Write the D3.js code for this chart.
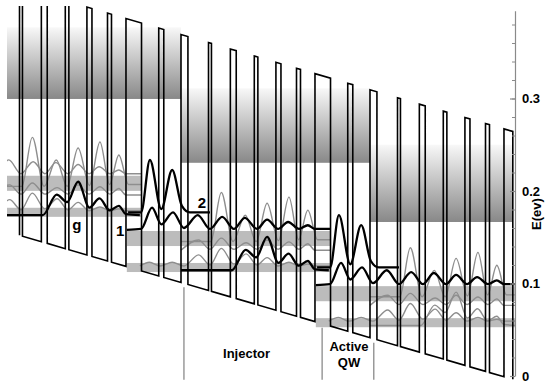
<!DOCTYPE html>
<html><head><meta charset="utf-8">
<script src="https://cdn.jsdelivr.net/npm/d3@7"></script>
<style>
body{margin:0;background:#fff}
svg{display:block}
text{font-family:Arial,"Liberation Sans",Helvetica,sans-serif;font-weight:bold;fill:#000}
</style>
</head><body>
<svg id="chart" width="550" height="383"></svg>
<script>
// ---------------- data ----------------
// layer widths of one period (nm), alternating barrier / well, starting with a barrier
const layerWidths = [1.65, 4.9, 0.7, 4.5, 1.4, 4.3, 0.85, 4.3, 1.2, 3.7, 0.95, 3.45, 3.7, 4.1, 1.2, 4.1];
const periodLength = 45;        // nm
const nPeriods = 3;
const bandEdge0 = 0.1608;       // eV, conduction band (well) at x = 0
const fieldDrop = 0.001326;     // eV per nm
const barrierHeight = 0.268;    // eV
const profileStart = 6.55;      // nm
const profileEnd = 124.0;       // nm
const periodDrop = fieldDrop * periodLength;

// continuum boxes [x0, x1, Ebottom, Etop]
const continuumBoxes = [
  [3.57, 45.0, 0.2995, 0.377],
  [45.0, 90.0, 0.2305, 0.311],
  [90.0, 124.0, 0.1665, 0.250]
];

// minibands (reference period), [x0, x1, Elow, Ehigh]
const minibands = [
  [32.1, 80.5, 0.1405, 0.1568],
  [32.1, 80.5, 0.1124, 0.1222]
];
const minibandCopies = [-1, 0, 1];

// wavefunctions: [x nm, E eV] points as read, plus period copies
const state1 = [[32.1,0.158],[35.5,0.159],[38.1,0.182],[40.3,0.164],[43.1,0.177],[45.7,0.160],[49.0,0.174],[51.9,0.159],[54.8,0.172],[57.6,0.159],[60.2,0.171],[63.1,0.159],[65.5,0.169],[68.1,0.159],[70.5,0.1665],[73.1,0.159],[75.2,0.163],[76.9,0.159],[80.5,0.159]];
const state2 = [[32.4,0.177],[35.5,0.177],[37.6,0.2335],[40.3,0.1805],[42.9,0.2227],[45.2,0.184],[47.1,0.177],[51.9,0.177]];
const stateG = [[0,0.174],[12.1,0.174],[15.4,0.196],[17.9,0.188],[20.5,0.210],[23.2,0.182],[25.6,0.192],[28.0,0.179],[30.2,0.184],[31.9,0.175],[35.2,0.174]];
const stateA = [[0,0.205],[7.1,0.205],[9.6,0.258],[12.4,0.205],[15.3,0.2335],[17.9,0.205],[20.5,0.2465],[23.2,0.206],[25.7,0.253],[28.0,0.207],[30.2,0.239],[32.5,0.207],[35.5,0.207]];
const stateD = [[45.0,0.136],[49.2,0.147],[51.9,0.137],[54.6,0.149],[57.6,0.137],[60.5,0.144],[63.1,0.137],[65.5,0.147],[68.1,0.137],[70.7,0.145],[73.1,0.137],[75.2,0.143],[76.9,0.136],[80.5,0.136]];
const stateE = [[35.2,0.119],[37.5,0.123],[40.0,0.119],[42.9,0.123],[45.7,0.119],[49.2,0.131],[51.9,0.12],[54.6,0.138],[57.6,0.121],[60.5,0.132],[63.1,0.12],[65.5,0.128],[68.1,0.119],[70.7,0.123],[73.1,0.119],[75.2,0.121],[76.9,0.119],[80.5,0.119]];

const grayStates = [
  {pts: stateA, copies: [0, 1, 2]},
  {pts: stateD, copies: [-1, 0, 1]},
  {pts: stateE, copies: [-1, 0, 1]},
  {pts: state1, copies: [-1]},
  {pts: stateG, copies: [2]}
];
const blackStates = [
  {pts: stateG, copies: [0, 1]},
  {pts: state2, copies: [0, 1]},
  {pts: state1, copies: [0, 1]}
];

const stateLabels = [["g", 20.2, 0.158], ["1", 30.5, 0.151], ["2", 50.0, 0.182]];
const regionSeparators = [45.7, 78.6, 90.9];
const separatorBottom = -0.004;
const regionLabels = [["Injector", 60.6, 0.0195], ["Active", 85.0, 0.0265], ["QW", 85.0, 0.0095]];

const majorTicks = [0, 0.1, 0.2, 0.3];
const minorTicks = d3.range(0, 0.39, 0.02);
const axisTop = 0.395;
const axisTitle = "E(ev)";

// ---------------- drawing ----------------
const svg = d3.select("#chart");
const xScale = d3.scaleLinear().domain([0, 135]).range([-8, -8 + 4.2 * 135]);
const yScale = d3.scaleLinear().domain([0, 0.4]).range([376, 6]);
const axisX = 515;

const defs = svg.append("defs");
defs.append("clipPath").attr("id", "plotclip").append("rect")
  .attr("x", 7).attr("y", 6).attr("width", axisX - 7).attr("height", 377);
const grad = defs.append("linearGradient").attr("id", "cgrad")
  .attr("x1", 0).attr("y1", 0).attr("x2", 0).attr("y2", 1);
grad.append("stop").attr("offset", 0).attr("stop-color", "#f8f8f8");
grad.append("stop").attr("offset", 1).attr("stop-color", "#888888");

const plot = svg.append("g").attr("clip-path", "url(#plotclip)");

// continuum boxes
plot.selectAll("rect.cont").data(continuumBoxes).join("rect")
  .attr("class", "cont")
  .attr("x", d => xScale(d[0])).attr("width", d => xScale(d[1]) - xScale(d[0]))
  .attr("y", d => yScale(d[3])).attr("height", d => yScale(d[2]) - yScale(d[3]))
  .attr("fill", "url(#cgrad)");

// minibands
const bandRects = [];
minibandCopies.forEach(dk => minibands.forEach(b => bandRects.push([b[0] + dk * periodLength, b[1] + dk * periodLength, b[2] - dk * periodDrop, b[3] - dk * periodDrop])));
plot.selectAll("rect.band").data(bandRects).join("rect")
  .attr("class", "band")
  .attr("x", d => xScale(d[0])).attr("width", d => xScale(d[1]) - xScale(d[0]))
  .attr("y", d => yScale(d[3])).attr("height", d => yScale(d[2]) - yScale(d[3]))
  .attr("fill", "#bcbcbc");

const wfLine = d3.line().x(d => xScale(d[0])).y(d => yScale(d[1])).curve(d3.curveMonotoneX);
function shifted(pts, dk) { return pts.map(p => [p[0] + dk * periodLength, p[1] - dk * periodDrop]); }

const grayPaths = [];
grayStates.forEach(s => s.copies.forEach(dk => grayPaths.push(shifted(s.pts, dk))));
plot.selectAll("path.gwf").data(grayPaths).join("path")
  .attr("class", "gwf").attr("d", wfLine)
  .attr("fill", "none").attr("stroke", "#8e8e8e").attr("stroke-width", 1.4);

// conduction band profile
const prof = [];
let xc = 0;
for (let k = 0; k < nPeriods; k++) {
  layerWidths.forEach((w, i) => {
    const a = xc, b = xc + w; xc = b;
    const lo = Math.max(a, profileStart), hi = Math.min(b, profileEnd);
    if (hi <= lo) return;
    const off = (i % 2 === 0) ? barrierHeight : 0;
    prof.push([lo, bandEdge0 - fieldDrop * lo + off], [hi, bandEdge0 - fieldDrop * hi + off]);
  });
}
prof.push([profileEnd, bandEdge0 - fieldDrop * profileEnd]);
plot.append("path").datum(prof)
  .attr("d", d3.line().x(d => xScale(d[0])).y(d => yScale(d[1])))
  .attr("fill", "none").attr("stroke", "#000").attr("stroke-width", 1.6)
  .attr("stroke-linejoin", "miter");

const blackPaths = [];
blackStates.forEach(s => s.copies.forEach(dk => blackPaths.push(shifted(s.pts, dk))));
plot.selectAll("path.bwf").data(blackPaths).join("path")
  .attr("class", "bwf").attr("d", wfLine)
  .attr("fill", "none").attr("stroke", "#000").attr("stroke-width", 2.3);

// state labels
svg.selectAll("text.sl").data(stateLabels).join("text")
  .attr("class", "sl")
  .attr("x", d => xScale(d[1])).attr("y", d => yScale(d[2]))
  .attr("text-anchor", "middle").attr("font-size", 15).text(d => d[0]);

// region separators
svg.selectAll("line.sep").data(regionSeparators).join("line")
  .attr("class", "sep")
  .attr("x1", d => xScale(d)).attr("x2", d => xScale(d))
  .attr("y1", d => yScale(bandEdge0 - fieldDrop * d) + 4)
  .attr("y2", yScale(separatorBottom))
  .attr("stroke", "#8a8a8a").attr("stroke-width", 1.3);
svg.selectAll("text.rl").data(regionLabels).join("text")
  .attr("class", "rl")
  .attr("x", d => xScale(d[1])).attr("y", d => yScale(d[2]))
  .attr("text-anchor", "middle").attr("font-size", 13).text(d => d[0]);

// axis
const axisScale = d3.scaleLinear().domain([0, axisTop]).range([yScale(0), yScale(axisTop)]);
const gMinor = svg.append("g").attr("transform", `translate(${axisX},0)`)
  .call(d3.axisRight(axisScale).tickValues(minorTicks).tickFormat("").tickSizeInner(-3).tickSizeOuter(0));
gMinor.select(".domain").attr("stroke", "#8a8a8a").attr("stroke-width", 1.2);
gMinor.selectAll(".tick line").attr("stroke", "#8a8a8a");
const gMajor = svg.append("g").attr("transform", `translate(${axisX},0)`)
  .call(d3.axisRight(axisScale).tickValues(majorTicks)
    .tickFormat(d => d === 0 ? "0" : d3.format(".1f")(d))
    .tickSizeInner(-5).tickSizeOuter(0).tickPadding(7));
gMajor.select(".domain").remove();
gMajor.selectAll(".tick line").attr("stroke", "#8a8a8a").attr("stroke-width", 1.2);
gMajor.selectAll(".tick text").attr("font-size", 13).attr("fill", "#000")
  .attr("font-family", "Arial, 'Liberation Sans', sans-serif").attr("font-weight", "bold");

svg.append("text")
  .attr("transform", `translate(541,${yScale(0.175)}) rotate(-90)`)
  .attr("text-anchor", "middle").attr("font-size", 13).text(axisTitle);
</script>
</body></html>
